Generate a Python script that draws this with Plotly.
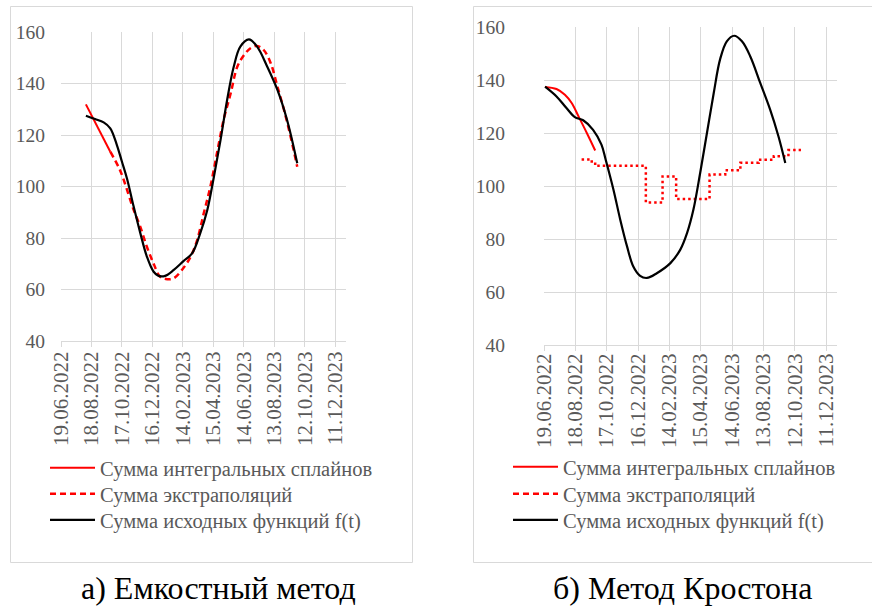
import pandas as pd
import plotly.graph_objects as go

START = pd.Timestamp("2022-06-19")

# ---------------- data (day offsets from 19.06.2022, values) ----------------
# Panel a) Емкостный метод
a_black_days = [49, 67, 84, 97, 110, 120, 130, 143, 156, 169, 182, 192, 205, 222, 241, 258, 274,
                288, 301, 314, 327, 340, 353, 370, 386, 406, 426, 445, 465]
a_black_vals = [127.5, 126.2, 124.9, 122.6, 116.1, 109.6, 103.0, 92.2, 82.0, 72.8, 67.0, 65.3, 65.3,
                67.6, 71.0, 74.0, 81.8, 90.9, 103.8, 118.0, 133.6, 146.5, 154.3, 157.1, 154.3,
                146.5, 137.5, 125.8, 109.0]
a_spline_days = [49, 74, 97]
a_spline_vals = [131.9, 122.6, 113.5]
a_extr_days = [97, 116, 130, 143, 156, 169, 182, 195, 209, 222, 238, 255, 268, 281, 294, 307, 320,
               334, 347, 360, 373, 386, 399, 413, 426, 439, 452, 465]
a_extr_vals = [113.5, 106.4, 98.7, 90.9, 84.4, 76.6, 70.2, 65.0, 64.0, 64.4, 67.6, 72.7, 79.2, 89.6,
               99.9, 112.9, 125.8, 136.2, 146.5, 151.0, 153.7, 154.6, 153.0, 147.8, 138.8, 129.7,
               119.3, 107.7]

# Panel б) Метод Кростона
b_black_days = [2, 24, 43, 59, 75, 94, 110, 118, 133, 146, 159, 171, 184, 197, 216, 242, 261, 274,
                286, 299, 312, 325, 337, 350, 364, 379, 395, 414, 433, 449, 462]
b_black_vals = [137.5, 133.8, 129.4, 126.0, 124.8, 121.2, 115.6, 110.0, 98.6, 87.3, 77.2, 69.6, 66.1,
                65.3, 67.1, 70.9, 76.0, 82.3, 91.0, 104.9, 120.0, 135.1, 147.7, 154.6, 156.7, 154.6,
                148.9, 138.9, 128.8, 118.7, 108.7]
b_spline_days = [2, 24, 40, 53, 66, 82, 98]
b_spline_vals = [137.4, 136.6, 134.4, 131.3, 126.3, 120.0, 113.4]
b_extr_days = [72, 89, 98, 195, 227, 253, 317, 347, 376, 411, 440, 468, 492]
b_extr_vals = [110.0, 109.2, 107.6, 93.8, 103.6, 95.1, 104.3, 105.9, 108.8, 109.9, 111.2, 113.6, 113.6]

names = ["Сумма интегральных сплайнов", "Сумма экстраполяций", "Сумма исходных функций f(t)"]
tick_days = [0, 60, 120, 180, 240, 300, 360, 420, 480, 540]
range_days = [0, 561]
y_ticks = [40, 60, 80, 100, 120, 140, 160]
captions = ["а) Емкостный метод", "б) Метод Кростона"]


def to_dates(days):
    return [START + pd.Timedelta(days=d) for d in days]


W, H = 872, 610
FONT = "Liberation Serif"
GRAY = "#595959"
GRID = "#d9d9d9"
RED = "#ff0000"
DASH = "6px,4px"

fig = go.Figure()

# panel a
fig.add_trace(go.Scatter(x=to_dates(a_spline_days), y=a_spline_vals, mode="lines", name=names[0],
                         line=dict(color=RED, width=2), legend="legend", xaxis="x", yaxis="y"))
fig.add_trace(go.Scatter(x=to_dates(a_extr_days), y=a_extr_vals, mode="lines", name=names[1],
                         line=dict(color=RED, width=2.5, dash=DASH, shape="spline"),
                         legend="legend2", xaxis="x", yaxis="y"))
fig.add_trace(go.Scatter(x=to_dates(a_black_days), y=a_black_vals, mode="lines", name=names[2],
                         line=dict(color="#000000", width=2.2, shape="spline"),
                         legend="legend3", xaxis="x", yaxis="y"))

# panel b
fig.add_trace(go.Scatter(x=to_dates(b_spline_days), y=b_spline_vals, mode="lines", name=names[0],
                         line=dict(color=RED, width=2, shape="spline"),
                         legend="legend4", xaxis="x2", yaxis="y2"))
fig.add_trace(go.Scatter(x=to_dates(b_extr_days), y=b_extr_vals, mode="lines", name=names[1],
                         line=dict(color=RED, width=2.5, dash="2.5px,3px", shape="hv"),
                         showlegend=False, xaxis="x2", yaxis="y2"))
fig.add_trace(go.Scatter(x=[None], y=[None], mode="lines", name=names[1],
                         line=dict(color=RED, width=2.5, dash=DASH),
                         legend="legend5", xaxis="x2", yaxis="y2"))
fig.add_trace(go.Scatter(x=to_dates(b_black_days), y=b_black_vals, mode="lines", name=names[2],
                         line=dict(color="#000000", width=2.2, shape="spline"),
                         legend="legend6", xaxis="x2", yaxis="y2"))


def xaxis(domain, anchor, standoff):
    return dict(domain=domain, anchor=anchor, type="date",
                range=to_dates(range_days), tickvals=to_dates(tick_days), tickformat="%d.%m.%Y",
                tickangle=-90, tickfont=dict(family=FONT, size=21, color=GRAY),
                showgrid=True, gridcolor=GRID, gridwidth=1, zeroline=False,
                showline=True, linecolor=GRID, linewidth=1,
                ticks="outside", ticklen=5, tickcolor=GRID, ticklabelstandoff=standoff,
                automargin=False)


def yaxis(domain, anchor, standoff):
    return dict(domain=domain, anchor=anchor, range=[40, 160], tickvals=y_ticks,
                tickfont=dict(family=FONT, size=19.5, color=GRAY),
                showgrid=True, gridcolor=GRID, gridwidth=1, zeroline=False,
                showline=False, ticks="", ticklabelstandoff=standoff, automargin=False)


def px_x(p):
    return p / W


def px_y(p):
    return 1 - p / H


def legend_at(xp, yp):
    return dict(x=px_x(xp), y=px_y(yp), xanchor="left", yanchor="middle",
                font=dict(family=FONT, size=20.5, color=GRAY), bgcolor="rgba(0,0,0,0)",
                itemwidth=45, itemclick=False, itemdoubleclick=False)


fig.update_layout(
    width=W, height=H, margin=dict(l=0, r=0, t=0, b=0),
    paper_bgcolor="white", plot_bgcolor="white",
    font=dict(family=FONT, color=GRAY),
    xaxis=xaxis([px_x(61), px_x(346)], "y", -4),
    yaxis=yaxis([px_y(341), px_y(32)], "x", 15),
    xaxis2=xaxis([px_x(544), px_x(837)], "y2", -6),
    yaxis2=yaxis([px_y(345), px_y(27)], "x2", 38),
    legend=legend_at(45, 468),
    legend2=legend_at(45, 494),
    legend3=legend_at(45, 520),
    legend4=legend_at(508, 467),
    legend5=legend_at(508, 494),
    legend6=legend_at(508, 520),
    shapes=[
        dict(type="rect", xref="paper", yref="paper", x0=px_x(10.5), x1=px_x(412.5),
             y0=px_y(562.5), y1=px_y(6.5), line=dict(color=GRID, width=1), layer="below"),
        dict(type="rect", xref="paper", yref="paper", x0=px_x(473.5), x1=px_x(874),
             y0=px_y(562.5), y1=px_y(6.5), line=dict(color=GRID, width=1), layer="below"),
    ],
    annotations=[
        dict(text=captions[0], xref="paper", yref="paper", x=px_x(218), y=px_y(588),
             xanchor="center", yanchor="middle", showarrow=False,
             font=dict(family=FONT, size=32, color="#000000")),
        dict(text=captions[1], xref="paper", yref="paper", x=px_x(682), y=px_y(588),
             xanchor="center", yanchor="middle", showarrow=False,
             font=dict(family=FONT, size=32, color="#000000")),
    ],
)

fig.write_html("out.html", post_script="document.body.style.margin='0';",
               config={"displayModeBar": False})
